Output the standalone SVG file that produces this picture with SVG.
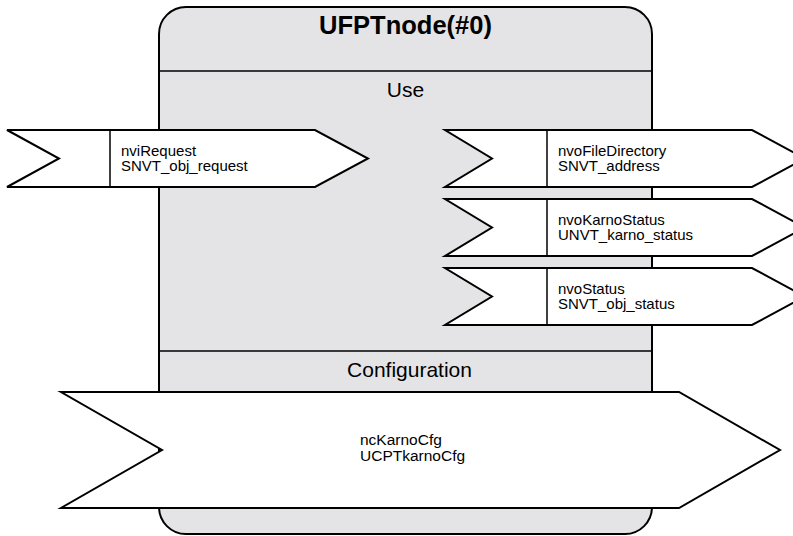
<svg xmlns="http://www.w3.org/2000/svg" width="793" height="536" viewBox="0 0 793 536">
<style>
.box{fill:#e4e4e6;stroke:#000;stroke-width:2}
.sep{stroke:#000;stroke-width:1.5}
.arr{fill:#fff;stroke:#000;stroke-width:2;stroke-linejoin:miter}
.div{stroke:#000;stroke-width:1.5}
.t{font-family:"Liberation Sans",Arial,sans-serif;fill:#000}
.title{font-size:25.5px;font-weight:bold;text-anchor:middle}
.sec{font-size:21px;text-anchor:middle}
.lbl{font-size:15px}
.cfg{font-size:15.5px}
</style>
<rect width="793" height="536" fill="#fff"/>
<g id="node-UFPTnode">
<rect class="box" x="159" y="7" width="493" height="527" rx="27" ry="27"/>
<line class="sep" x1="159" y1="71" x2="652" y2="71"/>
<line class="sep" x1="159" y1="351" x2="652" y2="351"/>
<text class="t title" x="405.5" y="34">UFPTnode(#0)</text>
<text class="t sec" x="405.5" y="97">Use</text>
<text class="t sec" x="409.5" y="377">Configuration</text>
</g>
<g id="connectors">
<g id="nviRequest">
<polygon class="arr" points="7,130 315,130 368,158.5 315,187 7,187 59,158.5"/>
<line class="div" x1="110" y1="130" x2="110" y2="187"/>
<text class="t lbl" x="121" y="155.5">nviRequest</text>
<text class="t lbl" x="121" y="171">SNVT_obj_request</text>
</g>
<g id="nvoFileDirectory">
<polygon class="arr" points="445,130 752,130 805,158.5 752,187 445,187 492,158.5"/>
<line class="div" x1="547" y1="130" x2="547" y2="187"/>
<text class="t lbl" x="558" y="155.5">nvoFileDirectory</text>
<text class="t lbl" x="558" y="171">SNVT_address</text>
</g>
<g id="nvoKarnoStatus">
<polygon class="arr" points="445,199 752,199 805,227.5 752,256 445,256 492,227.5"/>
<line class="div" x1="547" y1="199" x2="547" y2="256"/>
<text class="t lbl" x="558" y="224.5">nvoKarnoStatus</text>
<text class="t lbl" x="558" y="240">UNVT_karno_status</text>
</g>
<g id="nvoStatus">
<polygon class="arr" points="445,268 752,268 805,296.5 752,325 445,325 492,296.5"/>
<line class="div" x1="547" y1="268" x2="547" y2="325"/>
<text class="t lbl" x="558" y="293.5">nvoStatus</text>
<text class="t lbl" x="558" y="309">SNVT_obj_status</text>
</g>
<g id="ncKarnoCfg">
<polygon class="arr" points="61,392 679,392 780,450 679,508 61,508 162,450"/>
<text class="t cfg" x="360" y="445">ncKarnoCfg</text>
<text class="t cfg" x="360" y="461">UCPTkarnoCfg</text>
</g>
</g>
</svg>
